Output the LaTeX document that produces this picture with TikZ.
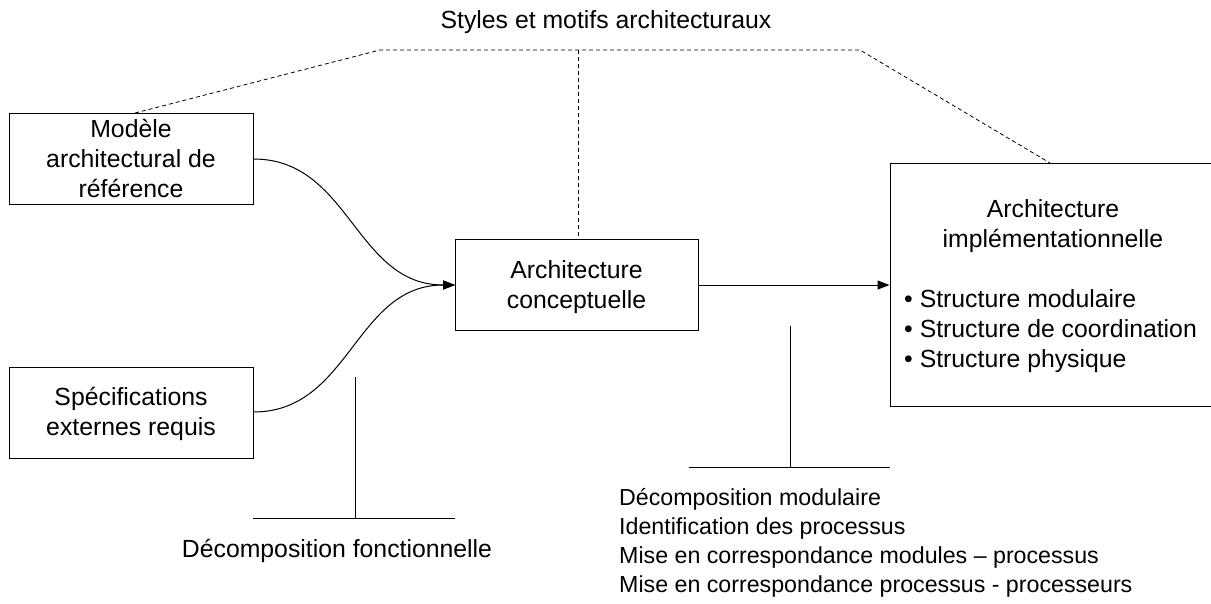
\documentclass[tikz,border=0pt]{standalone}
\usepackage{fontspec}
\setmainfont{Liberation Sans}
\usetikzlibrary{arrows.meta}
\begin{document}
\begin{tikzpicture}[x=1pt,y=-1pt,
  every node/.style={font=\fontsize{24.8}{30}\selectfont},
  box/.style={draw,line width=1pt,minimum width=244pt,minimum height=91pt,inner sep=0pt,align=center},
  txt/.style={inner sep=0pt,align=center},
  ltxt/.style={inner sep=0pt,align=left,anchor=west},
  solidline/.style={line width=1pt},
  dashline/.style={line width=0.8pt,dash pattern=on 4pt off 3pt},
  arr/.style={line width=1pt,-{Triangle[length=12pt,width=9pt]}}]
\useasboundingbox (0,0) rectangle (1211,603);
% boxes
\node[box] (mod) at (131,158.5) {};
\node[txt] at (131,158) {Modèle\\architectural de\\référence};
\node[box,minimum height=91pt] (spec) at (131,412.5) {};
\node[txt] at (131,414) {Spécifications\\externes requis};
\node[box,minimum width=243pt] (conc) at (576.5,284.5) {};
\node[txt] at (576.5,287) {Architecture\\conceptuelle};
\node[draw,line width=1pt,minimum width=324pt,minimum height=243pt,inner sep=0pt] (impl) at (1052,284.5) {};
\node[txt] (implt) at (1053,226) {Architecture\\implémentationnelle};
\node[ltxt] (impll) at (904,331) {• Structure modulaire\\• Structure de coordination\\• Structure physique};
% title and dashed lines
\node[txt] (title) at (606,22) {Styles et motifs architecturaux};
\coordinate (d1) at (380,50);
\coordinate (d2) at (860,50);
\coordinate (dm) at (578,50);
\draw[dashline] (135,113) -- (d1) -- (d2) -- (1050,163);
\draw[dashline] (dm) -- (conc.north -| dm);
% connectors
\coordinate (tip) at (455,285);
\draw[arr] (mod.east |- 0,159) .. controls (350,159) and (355,285) .. (tip);
\draw[arr] (spec.east |- 0,412) .. controls (350,412) and (355,285) .. (tip);
\draw[arr] (conc.east |- 0,285) -- (impl.west |- 0,285);
% decomposition brackets
\coordinate (f1) at (355,377);
\coordinate (f2) at (355,518);
\draw[solidline] (f1) -- (f2);
\draw[solidline] (253,518) -- (455,518);
\node[txt] (ftxt) at (337,551) {Décomposition fonctionnelle};
\coordinate (m1) at (790,326);
\coordinate (m2) at (790,467);
\draw[solidline] (m1) -- (m2);
\draw[solidline] (689,467) -- (890,467);
\node[ltxt,font=\fontsize{23.2}{29}\selectfont] (mtxt) at (619,542.5) {Décomposition modulaire\\Identification des processus\\Mise en correspondance modules – processus\\Mise en correspondance processus - processeurs};
\end{tikzpicture}
\end{document}
